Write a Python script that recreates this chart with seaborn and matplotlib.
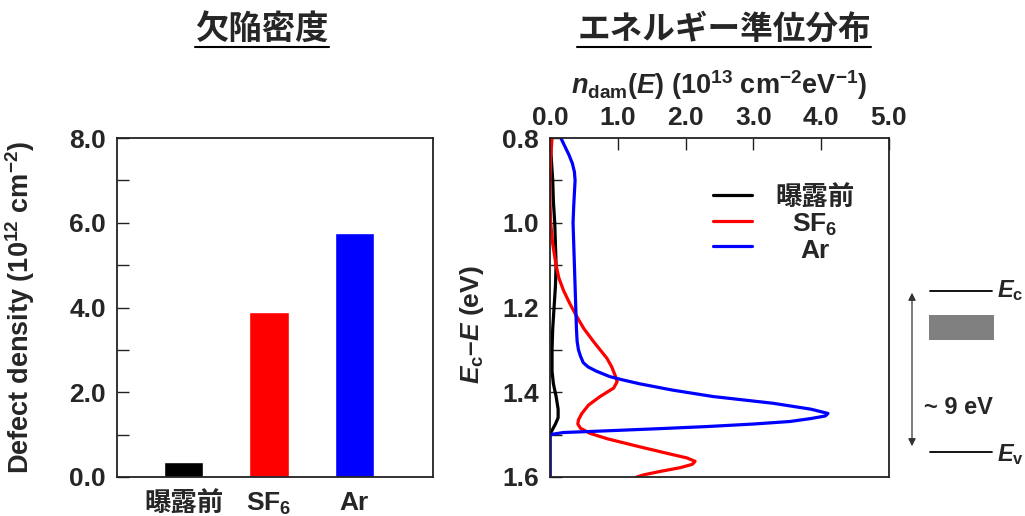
import matplotlib
matplotlib.use('Agg')
import matplotlib.pyplot as plt
import seaborn as sns
import pandas as pd
from matplotlib.lines import Line2D
from matplotlib.patches import Rectangle, FancyArrowPatch
from matplotlib.ticker import MultipleLocator, FormatStrFormatter

# ---------------- data ----------------
categories = ['曝露前', 'SF$_6$', 'Ar']
defect_density = [0.35, 3.89, 5.76]
colors = ['#000000', '#ff0000', '#0000ff']

E_pre = [0.80, 0.85, 0.90, 0.95, 1.00, 1.05, 1.10, 1.15, 1.20, 1.25, 1.30, 1.35,
         1.38, 1.41, 1.44, 1.46, 1.475, 1.49, 1.50, 1.55, 1.60]
n_pre = [0.00, 0.02, 0.04, 0.05, 0.07, 0.08, 0.09, 0.08, 0.06, 0.04, 0.03, 0.03,
         0.05, 0.09, 0.12, 0.12, 0.08, 0.03, 0.00, 0.00, 0.00]

E_sf6 = [0.80, 0.85, 0.90, 0.95, 1.00, 1.05, 1.10, 1.13, 1.16, 1.19, 1.22, 1.25,
         1.28, 1.30, 1.32, 1.34, 1.36, 1.375, 1.39, 1.41, 1.43, 1.45, 1.465, 1.475,
         1.485, 1.497, 1.51, 1.529, 1.545, 1.555, 1.563, 1.57, 1.578, 1.587, 1.595, 1.60]
n_sf6 = [0.03, 0.01, 0.00, 0.00, 0.01, 0.04, 0.09, 0.13, 0.20, 0.29, 0.39, 0.50,
         0.64, 0.74, 0.84, 0.91, 0.96, 0.99, 0.94, 0.74, 0.57, 0.47, 0.42, 0.41,
         0.45, 0.59, 0.85, 1.33, 1.75, 2.02, 2.14, 2.10, 1.92, 1.62, 1.38, 1.28]

E_ar = [0.80, 0.82, 0.84, 0.86, 0.88, 0.90, 0.93, 0.96, 1.00, 1.05, 1.10, 1.15,
        1.20, 1.25, 1.28, 1.30, 1.315, 1.33, 1.34, 1.35, 1.363, 1.37, 1.38, 1.395,
        1.41, 1.426, 1.44, 1.45, 1.456, 1.462, 1.469, 1.475, 1.481, 1.486, 1.491,
        1.495, 1.50, 1.55, 1.60]
n_ar = [0.16, 0.22, 0.28, 0.33, 0.36, 0.37, 0.36, 0.35, 0.34, 0.35, 0.36, 0.37,
        0.38, 0.39, 0.40, 0.42, 0.45, 0.49, 0.56, 0.68, 0.88, 1.05, 1.32, 1.81,
        2.40, 3.29, 3.85, 4.10, 4.06, 3.85, 3.54, 3.00, 2.31, 1.60, 0.84,
        0.20, 0.00, 0.00, 0.00]

# ---------------- style ----------------
sns.set_theme(style='white')
plt.rcParams['font.family'] = ['Liberation Sans', 'Noto Sans CJK JP']
plt.rcParams['font.weight'] = 'bold'
plt.rcParams['mathtext.fontset'] = 'custom'
plt.rcParams['mathtext.rm'] = 'Liberation Sans:bold'
plt.rcParams['mathtext.it'] = 'Liberation Sans:italic:bold'
plt.rcParams['mathtext.bf'] = 'Liberation Sans:bold'
plt.rcParams['mathtext.default'] = 'rm'
plt.rcParams['axes.edgecolor'] = '#222222'
plt.rcParams['axes.linewidth'] = 1.3

W, H = 1025, 516
fig = plt.figure(figsize=(W / 100, H / 100), dpi=100)
fig.patch.set_facecolor('white')

def fx(px):
    return px / W

def fy(py):
    return 1 - py / H

TS = 19  # tick font size

# ---------------- left: bar chart ----------------
ax1 = fig.add_axes([fx(117), fy(477), fx(433) - fx(117), fy(138) - fy(477)])
df_bar = pd.DataFrame({'cat': categories, 'val': defect_density})
sns.barplot(data=df_bar, x='cat', y='val', hue='cat', palette=colors,
            saturation=1, width=0.465, legend=False, ax=ax1)
ax1.set_xlim(-0.78, 2.92)
ax1.set_ylim(0, 8)
ax1.yaxis.set_major_locator(MultipleLocator(2))
ax1.yaxis.set_minor_locator(MultipleLocator(1))
ax1.yaxis.set_major_formatter(FormatStrFormatter('%.1f'))
ax1.tick_params(axis='y', which='both', direction='in', length=8.6, width=1,
                color='#222222', left=True, labelsize=TS, pad=8)
ax1.tick_params(axis='x', length=0, labelsize=TS, pad=10)
ax1.set_xlabel('')
ax1.set_ylabel('Defect density (10$^{12}$ cm$^{-2}$)', fontsize=19.5, fontweight='bold')
ax1.yaxis.set_label_coords((37 - 117) / 316, 0.5)
for t in ax1.get_xticklabels() + ax1.get_yticklabels():
    t.set_fontweight('bold')
ax1.grid(False)

# ---------------- right: energy distribution ----------------
ax2 = fig.add_axes([fx(550), fy(477), fx(889) - fx(550), fy(138) - fy(477)])
df_lines = pd.concat([
    pd.DataFrame({'E': E_pre, 'n': n_pre, 'sample': categories[0]}),
    pd.DataFrame({'E': E_sf6, 'n': n_sf6, 'sample': categories[1]}),
    pd.DataFrame({'E': E_ar, 'n': n_ar, 'sample': categories[2]}),
], ignore_index=True)
sns.lineplot(data=df_lines, x='n', y='E', hue='sample', hue_order=categories,
             palette=colors, orient='y', sort=False, estimator=None,
             linewidth=2.3, legend=False, ax=ax2)
ax2.set_xlim(0, 5)
ax2.set_ylim(1.6, 0.8)
ax2.xaxis.tick_top()
ax2.xaxis.set_label_position('top')
ax2.xaxis.set_major_locator(MultipleLocator(1))
ax2.xaxis.set_major_formatter(FormatStrFormatter('%.1f'))
ax2.yaxis.set_major_locator(MultipleLocator(0.2))
ax2.yaxis.set_minor_locator(MultipleLocator(0.1))
ax2.yaxis.set_major_formatter(FormatStrFormatter('%.1f'))
ax2.tick_params(axis='x', which='both', direction='in', length=8.6, width=1,
                color='#222222', top=True, bottom=False, labelsize=TS, pad=5.5)
ax2.tick_params(axis='y', which='both', direction='in', length=8.6, width=1,
                color='#222222', left=True, labelsize=TS, pad=8)
ax2.set_xlabel('$\\mathit{n}_{\\mathrm{dam}}(\\mathit{E})$ (10$^{13}$ cm$^{-2}$eV$^{-1}$)',
               fontsize=19.5, fontweight='bold')
ax2.xaxis.set_label_coords(0.5, 1 + (138 - 94) / 339)
ax2.set_ylabel('$\\mathit{E}_{\\mathrm{c}}$–$\\mathit{E}$ (eV)', fontsize=19, fontweight='bold')
ax2.yaxis.set_label_coords((486 - 550) / 339, 0.45)
for t in ax2.get_xticklabels() + ax2.get_yticklabels():
    t.set_fontweight('bold')
ax2.grid(False)

handles = [Line2D([], [], color=c, lw=2.3) for c in colors]
leg = ax2.legend(handles, categories, loc='upper left', bbox_to_anchor=(0.48, 0.86),
                 frameon=False, fontsize=19, handlelength=1.5, handletextpad=0.9,
                 labelspacing=0.05, borderpad=0, borderaxespad=0)
for t in leg.get_texts():
    t.set_fontweight('bold')

# ---------------- titles with underline ----------------
t1 = fig.text(fx(262), fy(30), '欠陥密度', ha='center', va='center', fontsize=24, fontweight='bold')
t2 = fig.text(fx(724), fy(30), 'エネルギー準位分布', ha='center', va='center', fontsize=23.5, fontweight='bold')
fig.canvas.draw()
r = fig.canvas.get_renderer()
for t in (t1, t2):
    bb = t.get_window_extent(r)
    fig.add_artist(Line2D([bb.x0 / W, bb.x1 / W], [fy(47), fy(47)], color='black', lw=1.5,
                          transform=fig.transFigure))

# centre the legend labels (as in the reference) at x = 815 px
for t, lab in zip(leg.get_texts(), categories):
    bb = t.get_window_extent(r)
    yc = (bb.y0 + bb.y1) / 2
    t.set_text('')
    fig.text(fx(815), yc / H, lab, ha='center', va='center', fontsize=19, fontweight='bold')

# ---------------- band diagram ----------------
fig.add_artist(Line2D([fx(930), fx(992)], [fy(291), fy(291)], color='black', lw=1.3,
                      transform=fig.transFigure))
fig.add_artist(Line2D([fx(930), fx(992)], [fy(452), fy(452)], color='black', lw=1.3,
                      transform=fig.transFigure))
fig.add_artist(Rectangle((fx(929), fy(340)), fx(994) - fx(929), fy(315) - fy(340),
                         facecolor='#808080', edgecolor='none', transform=fig.transFigure))
fig.add_artist(FancyArrowPatch((fx(912), fy(290)), (fx(912), fy(449)), arrowstyle='<|-|>',
                               mutation_scale=11, color='#333333', lw=0.9,
                               transform=fig.transFigure))
fig.text(fx(958), fy(408), '~ 9 eV', ha='center', va='center', fontsize=17, fontweight='bold')
fig.text(fx(997), fy(291), '$\\mathit{E}_{\\mathrm{c}}$', ha='left', va='center', fontsize=17)
fig.text(fx(997), fy(455), '$\\mathit{E}_{\\mathrm{v}}$', ha='left', va='center', fontsize=17)

fig.savefig('out.png', dpi=100, facecolor='white')
